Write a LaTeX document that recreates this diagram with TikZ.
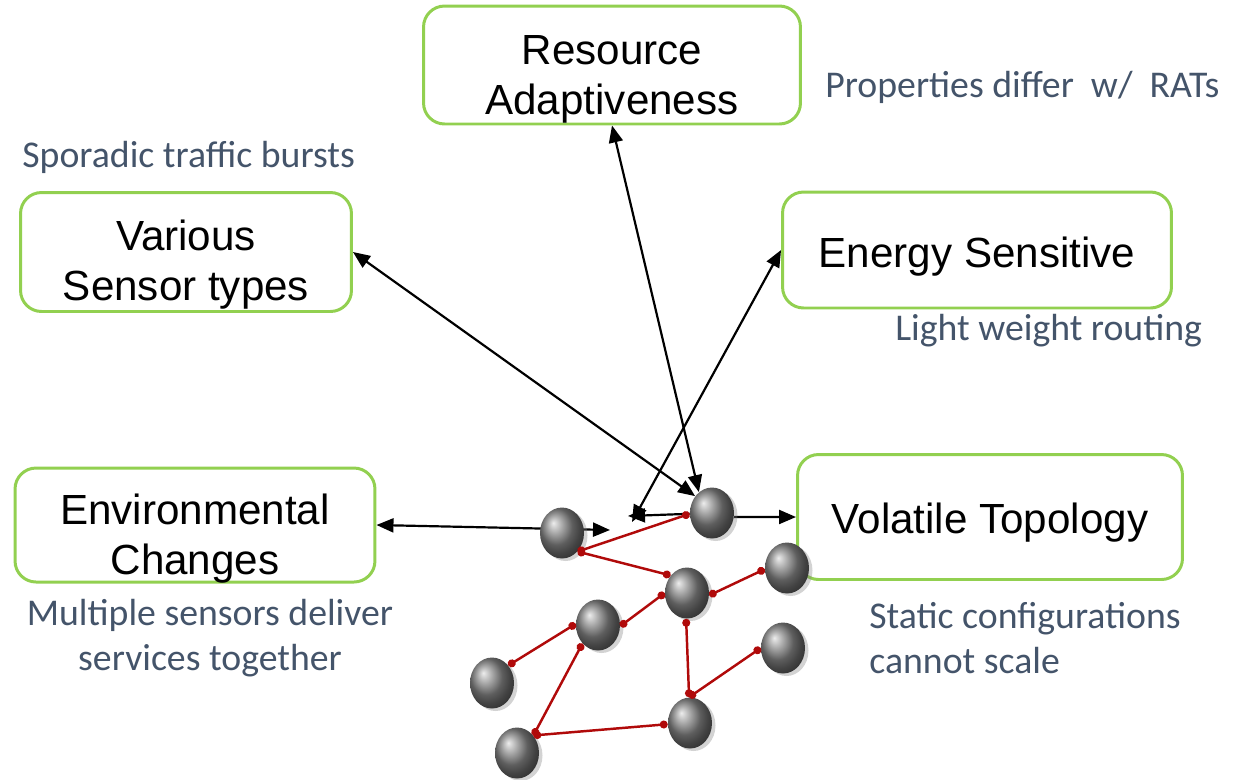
\documentclass[tikz,border=0pt]{standalone}
\usepackage{fontspec}
\setmainfont{Liberation Sans}
\newfontfamily\notefont{Carlito}
\usepackage{xcolor}
\usetikzlibrary{positioning,backgrounds}
\usetikzlibrary{shapes,arrows.meta,shadows}

\definecolor{boxgreen}{RGB}{146,208,80}
\definecolor{notegray}{RGB}{68,84,106}
\definecolor{linkred}{RGB}{176,10,10}

\tikzset{
  feature/.style={draw=boxgreen, line width=1.7pt, rounded corners=0.42cm,
    inner sep=0pt, text depth=0pt, font=\fontsize{24}{28.5}\selectfont},
  note/.style={text=notegray, inner sep=0pt, font=\notefont\fontsize{21.5}{25.8}\selectfont},
  sensor/.style={ellipse, minimum width=0.88cm, minimum height=1.02cm, inner sep=0pt,
    shading=ball, ball color=gray!95,
    drop shadow={opacity=0.35, shadow xshift=0.07cm, shadow yshift=-0.05cm}},
  link/.style={draw=linkred, line width=1.4pt, {Circle[length=4.5pt]}-{Circle[length=4.5pt]}},
  both/.style={draw, line width=1.25pt, {Triangle[length=0.34cm, width=0.28cm]}-{Triangle[length=0.34cm, width=0.28cm]}},
  single/.style={draw, line width=1.25pt, -{Triangle[length=0.34cm, width=0.28cm]}},
}

\begin{document}
\begin{tikzpicture}[x=0.02cm, y=-0.02cm]
\useasboundingbox (0,0) rectangle (1243,779);

% requirement boxes

\node [feature, text height=29pt, minimum width=7.54cm, minimum height=2.36cm] at (612,65) (resource) {\begin{tabular}{c}Resource\\Adaptiveness\end{tabular}};
\node [feature, text height=28pt, minimum width=6.62cm, minimum height=2.38cm] at (186,252) (various) {\begin{tabular}{c}Various\\Sensor types\end{tabular}};
\node [feature, text height=20pt, minimum width=7.78cm, minimum height=2.32cm] at (977,250) (energy) {Energy Sensitive};
\node [feature, text height=29pt, minimum width=7.2cm, minimum height=2.28cm] at (195,525) (envir) {\begin{tabular}{c}Environmental\\Changes\end{tabular}};
\node [feature, text height=18.5pt, minimum width=7.7cm, minimum height=2.5cm] at (990,517) (volatile) {Volatile Topology};

% notes

\node [note, anchor=west] at (825,87) (noteprop) {Properties differ\ \ w/\ \ RATs};
\node [note, anchor=west] at (22,157) (notesporadic) {Sporadic traffic bursts};
\node [note, anchor=west] at (895,331) (notelight) {Light weight routing};
\node [note, align=center] at (210,638) (notemultiple) {Multiple sensors deliver\\services together};
\node [note, align=left, anchor=west] at (869,638) (notestatic) {Static configurations\\cannot scale};

% sensor network

\node [sensor] at (562,533) (s1) {};
\node [sensor] at (712,513) (s2) {};
\node [sensor] at (687,593) (s3) {};
\node [sensor] at (787,568) (s4) {};
\node [sensor] at (598,625) (s5) {};
\node [sensor] at (492,683) (s6) {};
\node [sensor] at (783,648) (s7) {};
\node [sensor] at (690,723) (s8) {};
\node [sensor] at (517,753) (s9) {};

\path [link] (s1.-50) to (s2.182);
\path [link] (s1.-50) to (s3.133);
\path [link] (s3.-6) to (s4.183);
\path [link] (s3.180) to (s5.-3);
\path [link] (s5.177) to (s6.47);
\path [link] (s5.-130) to (s9.47);
\path [link] (s9.47) to (s8.183);
\path [link] (s3.-92) to (s8.92);
\path [link] (s8.92) to (s7.180);

% arrows

\coordinate (envtip) at (610,530);
\coordinate (midtip) at (628,516);
\coordinate (energytip) at (632,522);

\begin{scope}[on background layer]
\path [both] (envir.east) to (envtip);
\path [single] (s2.182) to (midtip);
\path [both] (energytip) to (energy.west);
\path [both] (various.east) to (s2.135);
\path [both] (resource.south) to (s2.122);
\path [single] (s2.-10) to (volatile.west);
\end{scope}

\end{tikzpicture}
\end{document}
